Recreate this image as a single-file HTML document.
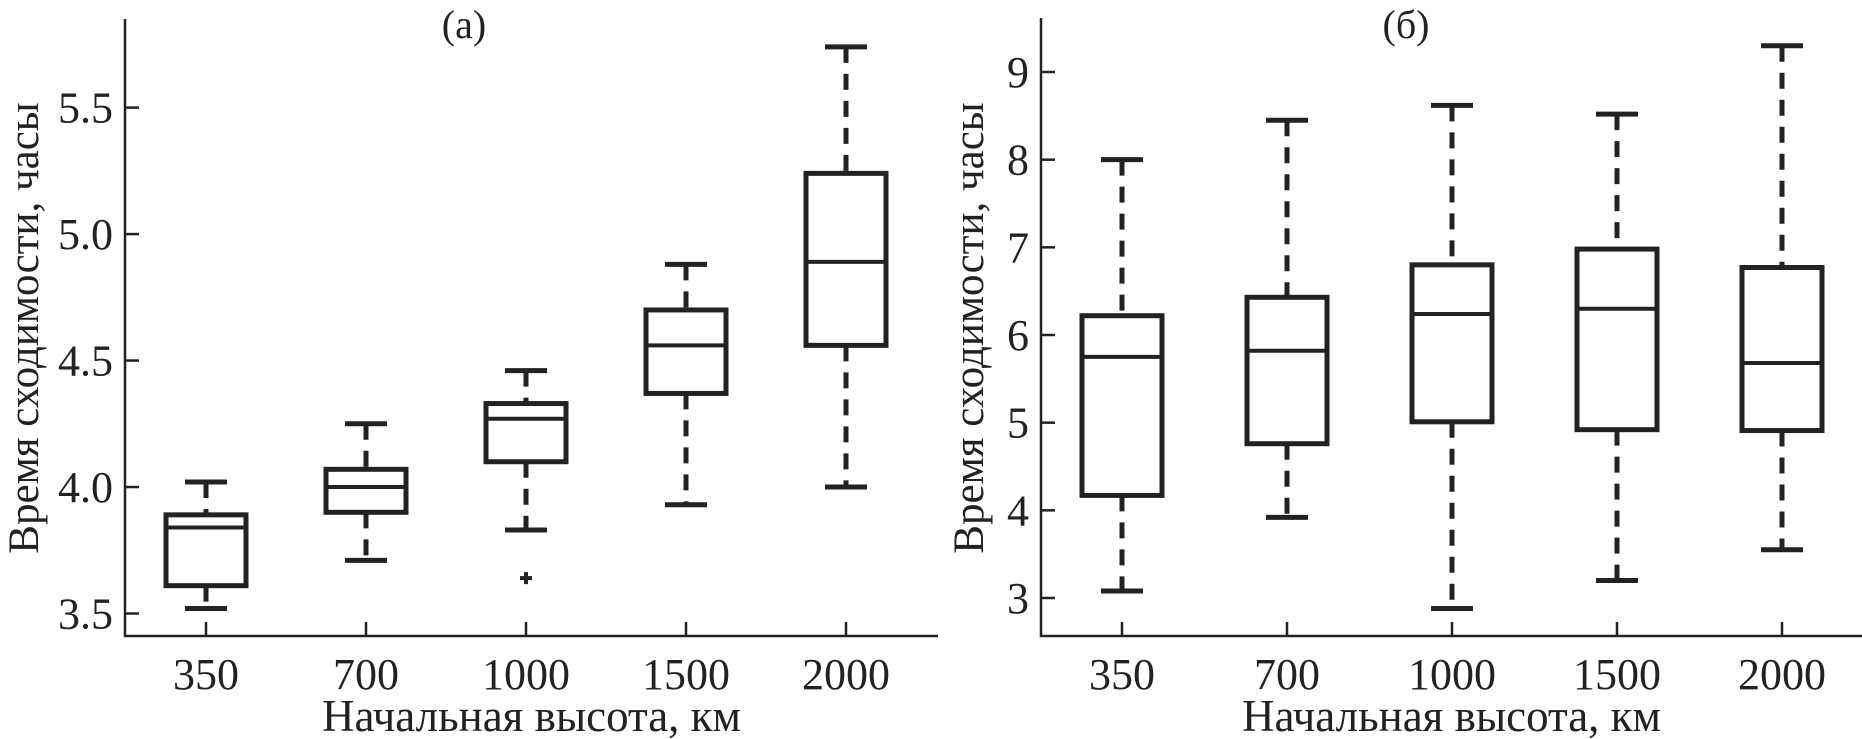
<!DOCTYPE html>
<html><head><meta charset="utf-8"><style>
html,body{margin:0;padding:0;background:#fff;}
svg{display:block;}
svg text{font-family:"Liberation Serif","Times New Roman",serif;}
</style></head><body>
<svg id="chart" width="1862" height="739" viewBox="0 0 1862 739" font-family="Liberation Serif, serif"></svg>
<script>
const categories = ["350","700","1000","1500","2000"];
const aWhiskLo = [3.52,3.71,3.83,3.93,4.00];
const aQ1 = [3.61,3.90,4.10,4.37,4.56];
const aMed = [3.84,4.00,4.27,4.56,4.89];
const aQ3 = [3.89,4.07,4.33,4.70,5.24];
const aWhiskHi = [4.02,4.25,4.46,4.88,5.74];
const aOutliers = [[],[],[3.64],[],[]];
const aTicks = [3.5,4.0,4.5,5.0,5.5];
const bWhiskLo = [3.08,3.92,2.88,3.20,3.55];
const bQ1 = [4.17,4.76,5.01,4.92,4.91];
const bMed = [5.75,5.82,6.24,6.30,5.68];
const bQ3 = [6.22,6.43,6.80,6.98,6.77];
const bWhiskHi = [8.00,8.45,8.62,8.52,9.30];
const bOutliers = [[],[],[],[],[]];
const bTicks = [3,4,5,6,7,8,9];

const NS="http://www.w3.org/2000/svg";
const svg=document.getElementById('chart');
function mk(tag,attrs,parent){const e=document.createElementNS(NS,tag);for(const k in attrs)e.setAttribute(k,attrs[k]);(parent||svg).appendChild(e);return e;}
const FF='Liberation Serif, serif';

function panel(cfg){
  const g=mk('g',{});
  
  
  const y=v=>cfg.y0+(v-cfg.v0)*(cfg.y1-cfg.y0)/(cfg.v1-cfg.v0);
  const x=i=>cfg.xs0+i*cfg.xstep;
  const ax=mk('path',{d:`M${cfg.axX} ${cfg.top} V${cfg.axY} H${cfg.right}`,stroke:'#222','stroke-width':2.5,fill:'none'},g);
  
  
  cfg.ticks.forEach(t=>{
    const tk=mk('line',{x1:cfg.axX,x2:cfg.axX+14,y1:y(t),y2:y(t),stroke:'#222','stroke-width':2.5},g);
    
    
    const tl=mk('text',{x:cfg.axX-12,y:y(t)+15,'text-anchor':'end','font-size':44,'font-family':FF,fill:'#222'},g);
    tl.textContent=cfg.fmt(t);
    
    
  });
  categories.forEach((c,i)=>{
    const cx=x(i);
    const tk=mk('line',{x1:cx,x2:cx,y1:cfg.axY,y2:cfg.axY-14,stroke:'#222','stroke-width':2.5},g);
    
    
    const tl=mk('text',{x:cx,y:cfg.axY+53,'text-anchor':'middle','font-size':44,'font-family':FF,fill:'#222'},g);
    tl.textContent=c;
    
    
    const bg=mk('g',{},g);
    
    
    const hw=40,cw=21;
    mk('line',{x1:cx,x2:cx,y1:y(cfg.hi[i]),y2:y(cfg.q3[i]),stroke:'#222','stroke-width':5,'stroke-dasharray':'16 11'},bg);
    mk('line',{x1:cx,x2:cx,y1:y(cfg.q1[i]),y2:y(cfg.lo[i]),stroke:'#222','stroke-width':5,'stroke-dasharray':'16 11'},bg);
    mk('line',{x1:cx-cw,x2:cx+cw,y1:y(cfg.hi[i]),y2:y(cfg.hi[i]),stroke:'#222','stroke-width':5},bg);
    mk('line',{x1:cx-cw,x2:cx+cw,y1:y(cfg.lo[i]),y2:y(cfg.lo[i]),stroke:'#222','stroke-width':5},bg);
    mk('rect',{x:cx-hw,y:y(cfg.q3[i]),width:2*hw,height:y(cfg.q1[i])-y(cfg.q3[i]),stroke:'#222','stroke-width':5,fill:'#fff'},bg);
    mk('line',{x1:cx-hw,x2:cx+hw,y1:y(cfg.med[i]),y2:y(cfg.med[i]),stroke:'#222','stroke-width':4},bg);
    cfg.out[i].forEach(o=>{
      const p=mk('path',{d:`M${cx-6} ${y(o)} H${cx+6} M${cx} ${y(o)-6} V${y(o)+6}`,stroke:'#222','stroke-width':4},bg);
      
      
    });
  });
  const xl=mk('text',{x:(cfg.axX+cfg.right)/2,y:731,'text-anchor':'middle','font-size':45,'font-family':FF,fill:'#222'},g);
  xl.textContent='Начальная высота, км';
  
  
  const yl=mk('text',{x:0,y:0,'text-anchor':'middle','font-size':43,'font-family':FF,fill:'#222',transform:`translate(${cfg.ylx},328) rotate(-90)`},g);
  yl.textContent='Время сходимости, часы';
  
  
  const tt=mk('text',{x:cfg.titleX,y:38,'text-anchor':'middle','font-size':40,'font-family':FF,fill:'#222'},g);
  tt.textContent=cfg.title;
  
  
}
panel({name:'panel-a',axX:125,axY:636,top:19,right:938,v0:3.5,v1:5.5,y0:613.5,y1:107.6,xs0:206,xstep:160,
  ticks:aTicks,fmt:t=>t.toFixed(1),lo:aWhiskLo,q1:aQ1,med:aMed,q3:aQ3,hi:aWhiskHi,out:aOutliers,ylx:38,title:'(a)',titleX:464});
panel({name:'panel-b',axX:1041,axY:636,top:18,right:1862,v0:3,v1:9,y0:598,y1:72,xs0:1122,xstep:165,
  ticks:bTicks,fmt:t=>String(t),lo:bWhiskLo,q1:bQ1,med:bMed,q3:bQ3,hi:bWhiskHi,out:bOutliers,ylx:983,title:'(б)',titleX:1406});
</script>
</body></html>
